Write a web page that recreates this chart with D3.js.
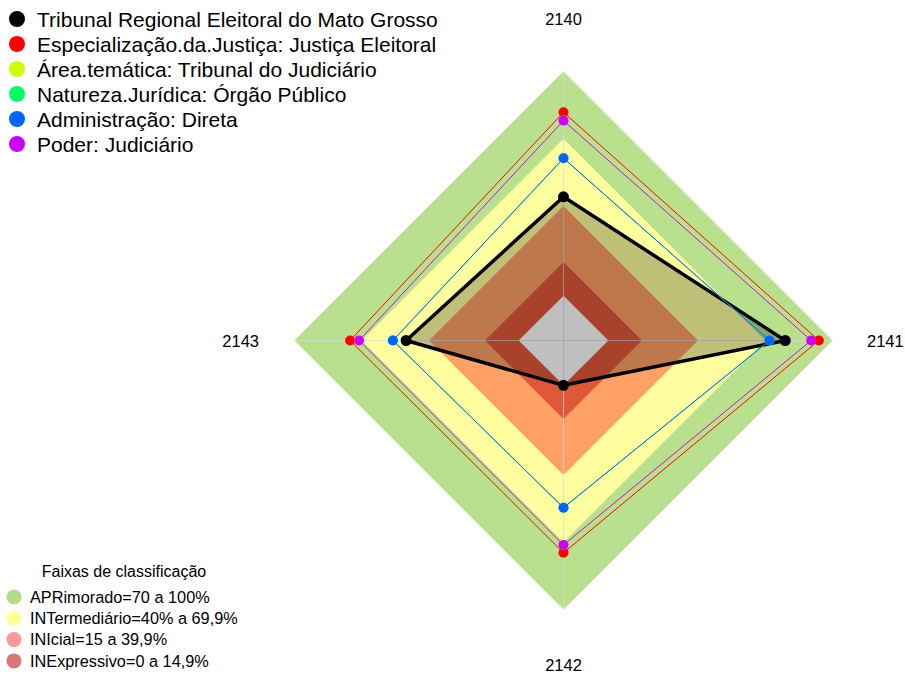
<!DOCTYPE html>
<html>
<head>
<meta charset="utf-8">
<script src="https://cdn.jsdelivr.net/npm/d3@7"></script>
<style>
  body { margin: 0; background: #fff; }
  svg { display: block; font-family: "Liberation Sans", Arial, sans-serif; }
</style>
</head>
<body>
<div id="chart"></div>
<script>
const W = 905, H = 675;

// axes (clockwise from top)
const axes = ['2140', '2141', '2142', '2143'];

const seriesNames = [
  'Tribunal Regional Eleitoral do Mato Grosso',
  'Especialização.da.Justiça: Justiça Eleitoral',
  'Área.temática: Tribunal do Judiciário',
  'Natureza.Jurídica: Órgão Público',
  'Administração: Direta',
  'Poder: Judiciário'
];
const seriesColors = ['#000000', '#FF0000', '#CCFF00', '#00FF66', '#0066FF', '#CC00FF'];

const trtValues    = [44.1, 78.9, 0, 50.2];
const especValues  = [81.8, 93.9, 74.7, 75.2];
const areaValues   = [78.1, 90.5, 71.2, 71.2];
const naturValues  = [61.3, 71.9, 54.6, 56.1];
const adminValues  = [61.3, 71.9, 54.6, 56.1];
const poderValues  = [78.1, 90.5, 71.2, 71.2];
const allValues = [trtValues, especValues, areaValues, naturValues, adminValues, poderValues];

// classification bands
const bandTops   = [100, 70, 40, 15];
const bandFills  = ['#B9E08C', '#FFFFA0', '#FFA066', '#E0583A'];
const bandLabels = ['APRimorado=70 a 100%', 'INTermediário=40% a 69,9%', 'INIcial=15 a 39,9%', 'INExpressivo=0 a 14,9%'];
const bandLegendColors = ['#B3DD86', '#FFFF99', '#FF9999', '#D87878'];

const cx = 563.5, cy = 340.5;
const r = d3.scaleLinear().domain([-20, 100]).range([0, 269]);
const angle = d3.scalePoint().domain(axes).range([0, 270]);

const pt = (a, v) => {
  const t = (angle(a) - 90) * Math.PI / 180;
  return [cx + r(v) * Math.cos(t), cy + r(v) * Math.sin(t)];
};

const svg = d3.select('#chart').append('svg').attr('width', W).attr('height', H);

const line = d3.line().curve(d3.curveLinearClosed);

// bands
svg.append('g').selectAll('path').data(bandTops).join('path')
  .attr('d', v => line(axes.map(a => pt(a, v))))
  .attr('fill', (d, i) => bandFills[i]);

// hole below zero
svg.append('path')
  .attr('d', line(axes.map(a => pt(a, 0))))
  .attr('fill', '#fff');

// axis lines
svg.append('g').selectAll('line').data(axes).join('line')
  .attr('x1', cx).attr('y1', cy)
  .attr('x2', a => pt(a, 100)[0]).attr('y2', a => pt(a, 100)[1])
  .attr('stroke', '#d9d9d9').attr('stroke-opacity', 0.7).attr('stroke-width', 1);

// main series fill
svg.append('path')
  .attr('d', line(axes.map((a, j) => pt(a, trtValues[j]))))
  .attr('fill', '#000').attr('fill-opacity', 0.25);

// series lines and dots
allValues.forEach((vals, i) => {
  const g = svg.append('g');
  g.append('path')
    .attr('d', line(axes.map((a, j) => pt(a, vals[j]))))
    .attr('fill', 'none')
    .attr('stroke', seriesColors[i])
    .attr('stroke-width', i === 0 ? 3.5 : 1)
    .attr('stroke-linejoin', 'round');
  g.selectAll('circle').data(vals).join('circle')
    .attr('cx', (v, j) => pt(axes[j], v)[0])
    .attr('cy', (v, j) => pt(axes[j], v)[1])
    .attr('r', i === 0 ? 5.5 : 5)
    .attr('fill', seriesColors[i]);
});

// axis labels
const labelPos = {
  '2140': [cx, 25, 'middle'],
  '2141': [867, 347, 'start'],
  '2142': [cx, 671, 'middle'],
  '2143': [259, 347, 'end']
};
svg.append('g').selectAll('text').data(axes).join('text')
  .attr('x', a => labelPos[a][0]).attr('y', a => labelPos[a][1])
  .attr('text-anchor', a => labelPos[a][2])
  .attr('font-size', 16.5).attr('fill', '#000')
  .text(a => a);

// series legend
const leg = svg.append('g');
seriesNames.forEach((name, i) => {
  const y = 19 + i * 25;
  leg.append('circle').attr('cx', 17).attr('cy', y).attr('r', 8).attr('fill', seriesColors[i]);
  leg.append('text').attr('x', 37).attr('y', y + 7.5)
    .attr('font-size', 21).attr('fill', '#000').text(name);
});

// bands legend
const leg2 = svg.append('g');
leg2.append('text').attr('x', 124).attr('y', 577).attr('text-anchor', 'middle')
  .attr('font-size', 16).attr('fill', '#000').text('Faixas de classificação');
bandLabels.forEach((lab, i) => {
  const y = 597 + i * 21.3;
  leg2.append('circle').attr('cx', 14).attr('cy', y).attr('r', 7.5).attr('fill', bandLegendColors[i]);
  leg2.append('text').attr('x', 30).attr('y', y + 5.8)
    .attr('font-size', 16.3).attr('fill', '#000').text(lab);
});
</script>
</body>
</html>
